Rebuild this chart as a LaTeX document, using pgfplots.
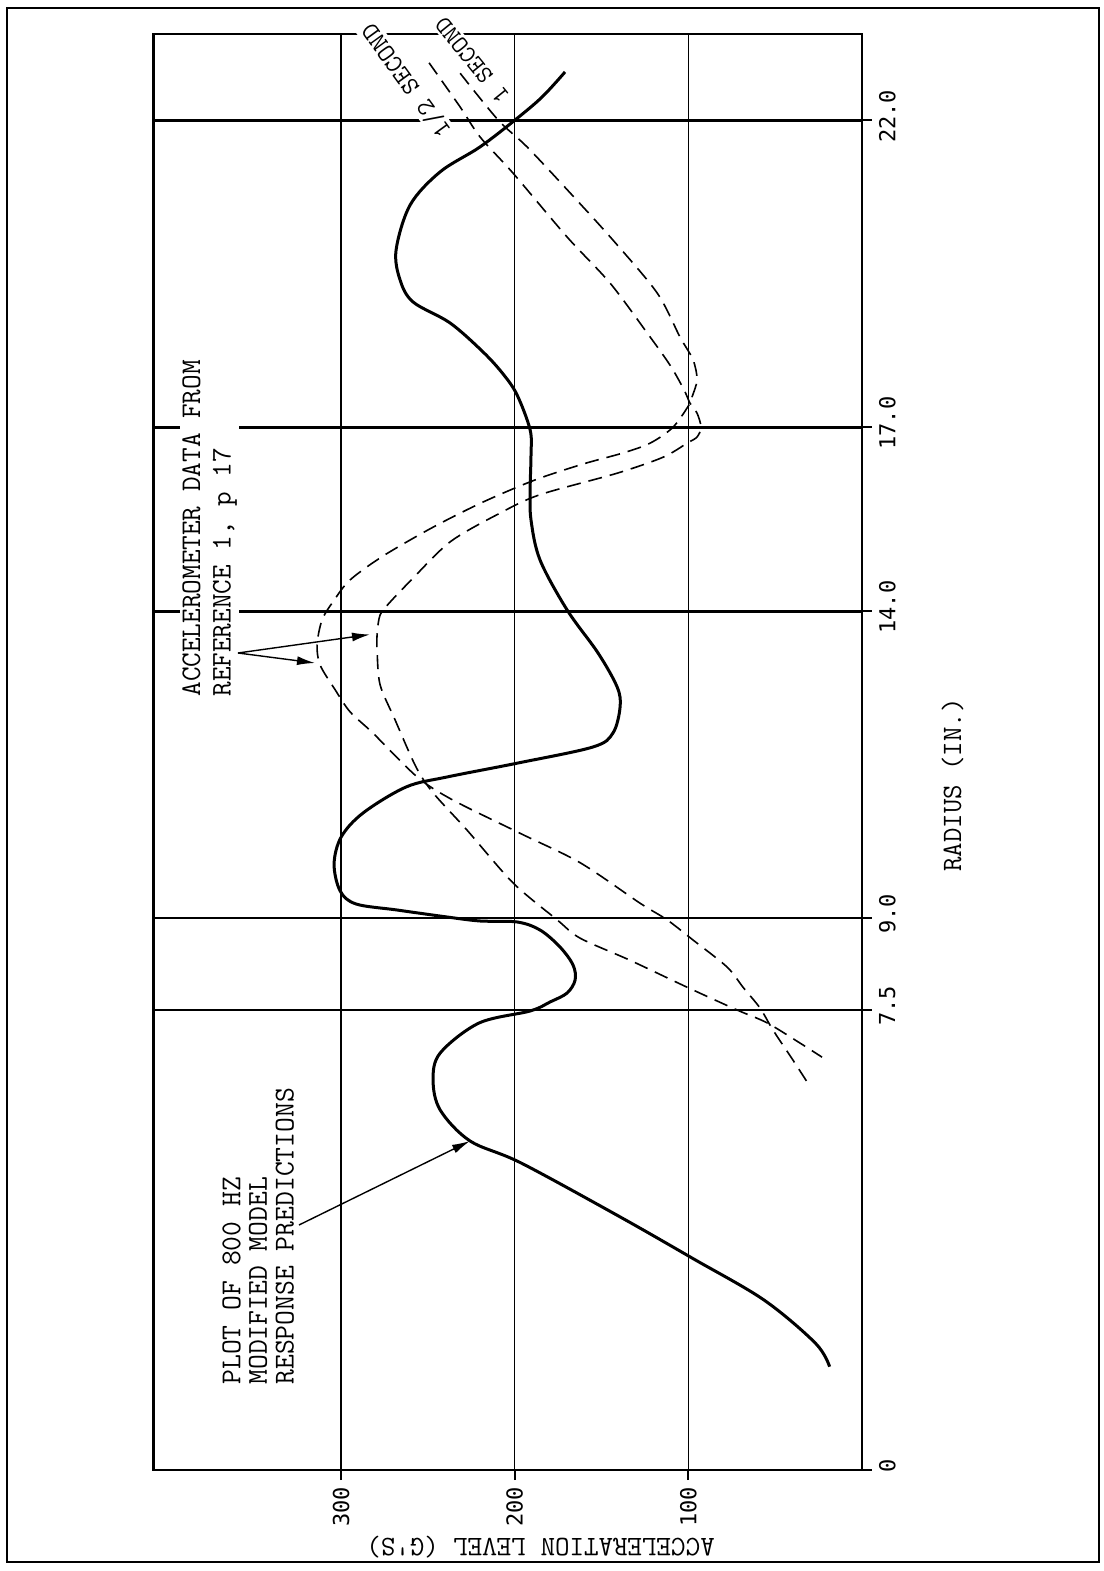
\documentclass[border=0pt]{standalone}
\usepackage{pgfplots}
\pgfplotsset{compat=1.18}
\usepackage{fontspec}
\newfontfamily\goth{DejaVu Sans Mono}
\usetikzlibrary{arrows.meta}

\begin{document}
\begin{tikzpicture}
\path[use as bounding box] (-76.75pt,-50.5pt) rectangle (475.25pt,735pt);
\draw[line width=1pt] (-73.25pt,-46pt) rectangle (472.75pt,731pt);
\begin{axis}[
  scale only axis, width=354.25pt, height=718pt,
  xmin=0, xmax=408, ymin=0, ymax=23.41,
  x dir=reverse,
  axis line style={line width=1.1pt},
  xtick={100,200,300}, xticklabels={100,200,300},
  ytick={0,7.5,9,14,17,22}, yticklabels={0,7.5,9.0,14.0,17.0,22.0},
  xtick pos=left, ytick pos=right,
  tick align=outside, major tick length=5pt,
  tick style={black, line width=1pt},
  xmajorgrids, ymajorgrids,
  major x grid style={black, line width=0.7pt},
  major y grid style={black, line width=1.4pt},
  xticklabel style={font=\goth\fontsize{11pt}{12pt}\selectfont, rotate=90, anchor=east},
  yticklabel style={font=\goth\fontsize{11pt}{12pt}\selectfont, rotate=90, anchor=north, xshift=2pt},
]
\addplot[black, line width=1.5pt, smooth, tension=0.55] coordinates {
(18.65,1.684) (26.77,2.066) (56.42,2.771) (96.89,3.440) (139.49,4.129) (196.3,5.005) (225.7,5.364) (242.9,5.869) (247.0,6.358) (242.9,6.798) (220.5,7.287) (191.1,7.483) (179.6,7.630) (169.8,7.776) (165.2,7.988) (166.4,8.233) (173.9,8.526) (185.4,8.803) (198.6,8.934) (219.9,8.950) (238.9,9.015) (267.7,9.129) (291.3,9.227) (300.5,9.439) (304.0,9.879) (299.9,10.320) (287.3,10.711) (262.5,11.135) (238.9,11.298) (198.0,11.526) (154.9,11.787) (143.4,12.015) (139.3,12.439) (141.0,12.765) (152.0,13.319) (169.8,14.020) (185.4,14.835) (190.6,15.488) (191.1,15.977) (190.6,16.547) (191.1,16.955) (198.6,17.525) (206.7,17.868) (218.2,18.226) (237.2,18.699) (258.5,19.041) (266.0,19.400) (268.3,19.889) (260.2,20.623) (243.0,21.161) (220.0,21.568) (199.8,22.008) (184.2,22.383) (171.0,22.791)
};
\addplot[black, line width=0.8pt, dash pattern=on 7pt off 4pt, smooth, tension=0.5] coordinates {
(249.3,22.94) (231.4,22.22) (219.9,21.73) (200.9,21.14) (169.8,20.10) (145.1,19.35) (123.8,18.54) (110.5,18.01) (102.5,17.61) (99.0,17.39) (95.0,17.23) (92.7,17.00) (95.0,16.84) (100.7,16.74) (114.6,16.51) (141.0,16.25) (185.4,15.90) (208.4,15.60) (237.2,15.13) (260.2,14.49) (271.7,14.15) (277.5,13.94) (279.2,13.63) (279.2,13.34) (277.5,12.80) (268.9,12.23) (256.8,11.46) (247.0,11.04) (227.4,10.43) (200.9,9.57) (175.6,8.97) (162.3,8.67) (133.6,8.31) (100.7,7.87) (72.0,7.50) (54.7,7.29) (35.7,6.96) (23.0,6.73)
};
\addplot[black, line width=0.8pt, dash pattern=on 7pt off 4pt, smooth, tension=0.5] coordinates {
(231.4,22.77) (209.6,22.01) (192.9,21.57) (168.1,20.82) (143.4,20.05) (118.0,19.19) (104.8,18.47) (97.3,18.10) (95.0,17.77) (97.9,17.49) (99.0,17.39) (108.8,17.00) (122.0,16.74) (137.6,16.58) (160.6,16.40) (188.3,16.14) (218.2,15.78) (247.0,15.37) (275.8,14.90) (294.8,14.51) (304.0,14.18) (310.9,13.86) (313.8,13.45) (312.0,13.12) (303.4,12.72) (294.8,12.36) (281.5,12.01) (256.2,11.30) (235.5,10.92) (196.9,10.38) (162.3,9.90) (127.8,9.24) (112.3,8.97) (97.3,8.64) (77.7,8.20) (68.5,7.87) (58.7,7.53) (51.2,7.17) (39.7,6.68) (31.7,6.33)
};
\end{axis}
\node[rotate=90, anchor=north west, align=left, inner sep=1pt, fill=white, font=\ttfamily\fontsize{14.2pt}{15.3pt}\selectfont] at (13.25pt,385.5pt) {ACCELEROMETER DATA FROM\\REFERENCE 1, p 17};
\node[rotate=90, anchor=north west, align=left, inner sep=1pt, fill=white, font=\ttfamily\fontsize{14.4pt}{13.3pt}\selectfont] at (33.25pt,41.5pt) {PLOT OF 800 HZ\\MODIFIED MODEL\\RESPONSE PREDICTIONS};
\node[rotate=126, inner sep=1pt, fill=white, font=\ttfamily\fontsize{13pt}{13pt}\selectfont] at (126.25pt,694.5pt) {1/2 SECOND};
\node[rotate=129, inner sep=1pt, fill=white, font=\ttfamily\fontsize{12.5pt}{13pt}\selectfont] at (159.25pt,705pt) {1 SECOND};
\node[rotate=90, font=\ttfamily\fontsize{14pt}{15pt}\selectfont] at (399.5pt,342.5pt) {RADIUS (IN.)};
\node[rotate=180, font=\ttfamily\fontsize{14.1pt}{15pt}\selectfont] at (193.5pt,-38.5pt) {ACCELERATION LEVEL (G'S)};
\draw[-{Latex[length=9pt,width=4.5pt]}, line width=0.7pt] (72.75pt,122.5pt) -- (158.25pt,164.5pt);
\draw[-{Latex[length=9pt,width=4.5pt]}, line width=0.7pt] (42.25pt,408.5pt) -- (108.25pt,417.75pt);
\draw[-{Latex[length=9pt,width=4.5pt]}, line width=0.7pt] (42.25pt,408.5pt) -- (80.75pt,403.5pt);
\end{tikzpicture}
\end{document}
